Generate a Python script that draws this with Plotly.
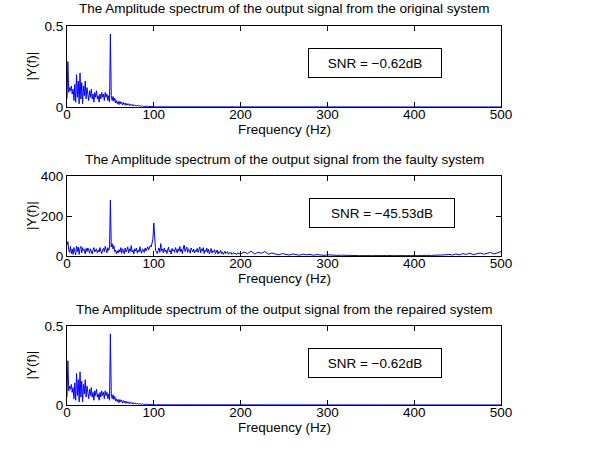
import numpy as np
import plotly.graph_objects as go

W, H = 611, 452

# ---------------- data ----------------
# original / repaired system: 0..120 Hz at 1 Hz, then 125..500 Hz at 5 Hz
freq_orig_low = list(range(0, 121))
amp_orig_low = [
    0.05, 0.28, 0.09, 0.12, 0.10, 0.13, 0.08, 0.11, 0.04, 0.14,
    0.03, 0.20, 0.06, 0.16, 0.02, 0.21, 0.05, 0.15, 0.02, 0.13,
    0.07, 0.16, 0.05, 0.12, 0.08, 0.04, 0.10, 0.06, 0.11, 0.05,
    0.08, 0.03, 0.09, 0.06, 0.10, 0.05, 0.07, 0.03, 0.08, 0.05,
    0.09, 0.06, 0.08, 0.04, 0.09, 0.06, 0.08, 0.04, 0.07, 0.03,
    0.45, 0.07, 0.04, 0.065, 0.035, 0.055, 0.025, 0.04, 0.02, 0.035,
    0.015, 0.035, 0.02, 0.03, 0.012, 0.028, 0.015, 0.025, 0.01, 0.022,
    0.012, 0.02, 0.008, 0.018, 0.01, 0.016, 0.006, 0.014, 0.008, 0.012,
    0.005, 0.011, 0.006, 0.009, 0.004, 0.008, 0.005, 0.007, 0.003, 0.006,
    0.004, 0.005, 0.002, 0.004, 0.003, 0.004, 0.002, 0.003, 0.002, 0.003,
    0.002, 0.002, 0.001, 0.001, 0.002, 0.001, 0.001, 0.001, 0.002, 0.001,
    0.001, 0.001, 0.001, 0.001, 0.001, 0.0005, 0.001, 0.0005, 0.0005, 0.0005,
    0.0005,
]
freq_orig_high = list(range(125, 501, 5))
amp_orig_high = [
    0.0005, 0.0004, 0.0005, 0.0003, 0.0004, 0.0003, 0.0003, 0.0002, 0.0003, 0.0002,
    0.0002, 0.0002, 0.0001, 0.0002, 0.0001, 0.0001, 0.0001, 0.0001, 0.0001, 0.0001,
    0.0001, 0.0001, 0.0001, 0.0001, 0.0001, 0.0001, 0.0001, 0.0001, 0.0001, 0.0001,
    0.0001, 0.0001, 0.0001, 0.0001, 0.0001, 0.0001, 0.0001, 0.0001, 0.0001, 0.0001,
    0.0001, 0.0001, 0.0001, 0.0001, 0.0001, 0.0001, 0.0001, 0.0001, 0.0001, 0.0001,
    0.0001, 0.0001, 0.0001, 0.0001, 0.0001, 0.0001, 0.0001, 0.0001, 0.0001, 0.0001,
    0.0001, 0.0001, 0.0001, 0.0001, 0.0001, 0.0001, 0.0001, 0.0001, 0.0001, 0.0001,
    0.0001, 0.0001, 0.0001, 0.0001, 0.0001, 0.0001,
]

# faulty system: 0..200 Hz at 1 Hz, then 204..500 Hz at 4 Hz
freq_fault_low = list(range(0, 201))
amp_fault_low = [
    55, 72, 30, 18, 48, 12, 35, 8, 42, 25, 5, 50, 22, 45, 8, 38, 48, 15, 42, 28,
    32, 10, 38, 22, 40, 30, 14, 36, 25, 10, 30, 42, 20, 26, 36, 15, 30, 20, 42, 25,
    12, 30, 38, 22, 48, 32, 16, 42, 28, 38,
    280,
    45, 62, 35, 52, 22, 30, 10, 26, 15, 32, 20, 42, 14, 36, 26, 10, 40, 20, 30, 46,
    15, 36, 24, 52, 20, 30, 10, 36, 25, 40, 14, 30, 20, 46, 25, 14, 36, 30, 18, 40,
    25, 35, 46, 30, 42, 52, 45, 60, 85,
    165,
    70, 30, 20, 12, 28, 40, 18, 62, 25, 35, 15, 40, 22, 30, 12, 35, 45, 20, 28, 10,
    38, 25, 32, 18, 42, 30, 15, 36, 24, 48, 20, 34, 12, 40, 55, 22, 30, 45, 18, 36,
    26, 14, 40, 30, 20, 35, 15, 28, 22,
    38, 18, 32, 45, 15, 36, 25, 42, 12, 30, 22, 40, 18, 34, 10, 28, 38, 15, 26, 20,
    32, 12, 24, 30, 10, 22, 16, 28, 12, 20, 8, 18, 24, 12, 16, 22, 9, 16, 13, 18,
    8, 14, 17, 10, 15, 7, 12, 16, 9, 13, 10,
]
freq_fault_high = list(range(204, 501, 4))
amp_fault_high = [
    20, 12, 25, 10, 18, 14, 22, 9, 15,
    10, 6, 12, 8, 5, 10, 7, 4, 9, 6, 8, 4, 7, 5, 3, 6, 4, 5, 3, 4,
    3, 2, 3, 1, 2, 2, 3, 1, 2, 2, 1, 2, 3, 1, 2, 2, 1, 3, 2, 2,
    1, 2, 3, 2, 4, 3, 4, 3, 5, 6,
    8, 5, 10, 6, 12, 8, 14, 7, 11, 15, 9, 13, 18, 10, 16, 22,
]

# repaired system (same spectrum as the original one)
freq_rep = freq_orig_low + freq_orig_high
amp_rep = amp_orig_low + amp_orig_high
freq_orig = freq_orig_low + freq_orig_high
amp_orig = amp_orig_low + amp_orig_high
freq_fault = freq_fault_low + freq_fault_high
amp_fault = amp_fault_low + amp_fault_high

titles = [
    "The Amplitude spectrum of the output signal from the original system",
    "The Amplitude spectrum of the output signal from the faulty system",
    "The Amplitude spectrum of the output signal from the repaired system",
]
snr_texts = ["SNR = \u22120.62dB", "SNR = \u221245.53dB", "SNR = \u22120.62dB"]
x_ticks = [0, 100, 200, 300, 400, 500]
y_ticks = [[0, 0.5], [0, 200, 400], [0, 0.5]]
y_ticktext = [["0", "0.5"], ["0", "200", "400"], ["0", "0.5"]]
y_ranges = [[0, 0.5], [0, 400], [0, 0.5]]

# ---------------- layout ----------------
FONT = "Liberation Sans, Arial, Helvetica, sans-serif"
FS = 13.5
X0, X1 = 67, 501
boxes = [(26, 107), (176, 256), (326, 405)]  # top, bottom in px
snr_box = [(374.5, 63, 120), (382, 213, 132), (374.5, 363, 120)]  # centre x, y, width

def py(p):
    return 1 - p / H

def px(p):
    return p / W

fig = go.Figure()
series = [(freq_orig, amp_orig), (freq_fault, amp_fault), (freq_rep, amp_rep)]
annotations = []
for i, ((fx, fy), (top, bot)) in enumerate(zip(series, boxes)):
    sfx = "" if i == 0 else str(i + 1)
    fig.add_trace(go.Scatter(x=fx, y=fy, mode="lines",
                             line=dict(color="#0000ff", width=1),
                             xaxis="x" + sfx, yaxis="y" + sfx,
                             showlegend=False, hoverinfo="skip"))
    common = dict(showline=True, linecolor="black", linewidth=1, mirror="ticks",
                  ticks="inside", ticklen=5, tickcolor="black", showgrid=False,
                  zeroline=False, automargin=False,
                  tickfont=dict(family=FONT, size=FS, color="black"))
    fig.layout["xaxis" + sfx] = dict(common, domain=[X0 / W, X1 / W], range=[0, 500],
                                     tickvals=x_ticks, anchor="y" + sfx,
                                     ticklabelstandoff=-5)
    fig.layout["yaxis" + sfx] = dict(common, domain=[py(bot), py(top)], range=y_ranges[i],
                                     tickvals=y_ticks[i], ticktext=y_ticktext[i],
                                     anchor="x" + sfx)
    # title
    annotations.append(dict(text=titles[i], xref="paper", yref="paper",
                            x=px(284), y=py(top - 17), xanchor="center",
                            yanchor="middle", showarrow=False,
                            font=dict(family=FONT, size=FS, color="black")))
    # x title
    annotations.append(dict(text="Frequency (Hz)", xref="paper", yref="paper",
                            x=px(284), y=py(bot + 22), xanchor="center",
                            yanchor="middle", showarrow=False,
                            font=dict(family=FONT, size=FS, color="black")))
    # y title
    annotations.append(dict(text="|Y(f)|", xref="paper", yref="paper",
                            x=px(31), y=py((top + bot) / 2), xanchor="center",
                            yanchor="middle", showarrow=False, textangle=-90,
                            font=dict(family=FONT, size=FS, color="black")))
    # SNR box
    cx, cy, bw = snr_box[i]
    annotations.append(dict(text=snr_texts[i], xref="paper", yref="paper",
                            x=px(cx), y=py(cy), xanchor="center", yanchor="middle",
                            showarrow=False, width=bw, height=16, align="center",
                            bordercolor="black", borderwidth=1, borderpad=6,
                            bgcolor="white",
                            font=dict(family=FONT, size=FS, color="black")))

fig.update_layout(width=W, height=H, margin=dict(l=0, r=0, t=0, b=0),
                  paper_bgcolor="white", plot_bgcolor="white",
                  annotations=annotations, showlegend=False)

fig.write_html("out.html", config={"displayModeBar": False},
               post_script="document.body.style.margin='0';document.body.style.padding='0';")
